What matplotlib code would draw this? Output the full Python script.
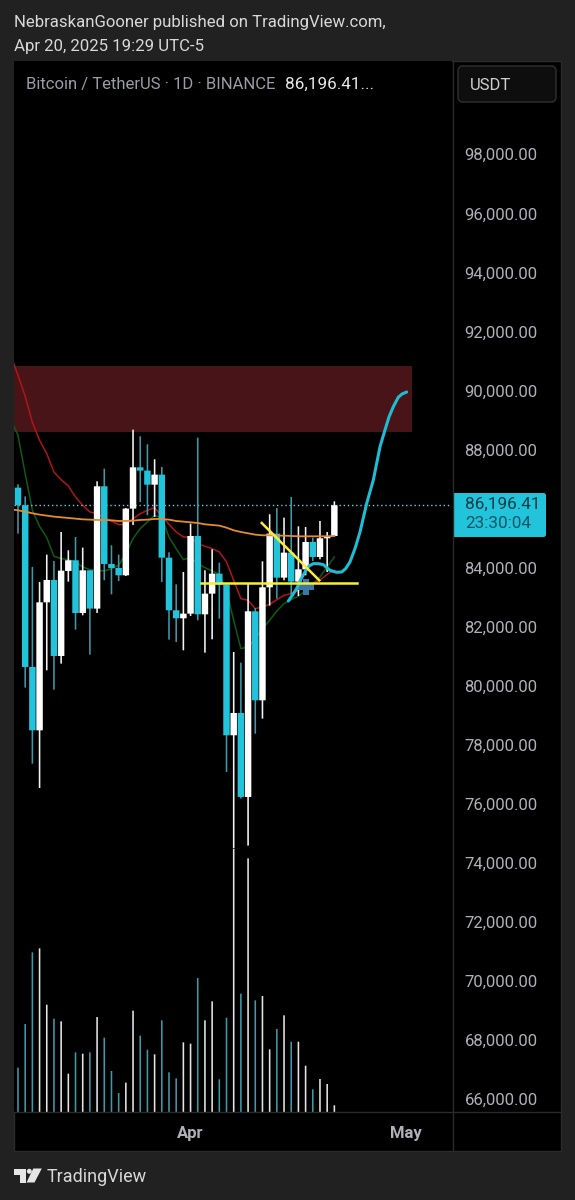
import matplotlib
matplotlib.use("Agg")
import matplotlib.pyplot as plt
from matplotlib.patches import Rectangle, FancyBboxPatch, Polygon
from matplotlib.transforms import IdentityTransform

plt.rcParams['font.family'] = ['Roboto', 'DejaVu Sans']

# ---- data ----
opens  = [86712,86114,80639,78494,82828,83585,81011,83890,84251,82467,83912,82615,86757,84127,83991,83743,86001,87400,87288,86813,87152,84341,82558,82287,82445,85075,82422,83122,83799,83427,78325,79081,76237,82524,79510,83337,85154,83664,84511,83529,83946,84872,84364,84996,85075]
highs  = [86825,86418,84025,83517,84443,84228,85210,84590,85041,84680,83912,86926,87355,84759,84443,86023,88676,88450,88179,87671,87412,84522,83438,83856,85493,88405,83912,84624,84172,83461,81147,80786,83461,82637,84217,85809,86023,85696,86396,85402,85380,85019,85583,85210,86249]
lows   = [85154,79939,77365,76541,80526,79871,80752,83529,81903,82389,81057,82467,83574,83099,83551,83720,85448,86226,85775,85719,83517,81564,81485,81203,82366,82219,81124,81576,82276,77083,74508,76180,74589,78381,78889,82716,82953,83574,83066,83043,83743,84228,84285,83856,85075]
closes = [86114,80639,78494,82828,83585,81011,83901,84251,82467,83912,82615,86757,84127,83991,83743,86001,87400,87288,86813,87152,84341,82558,82287,82445,85075,82422,83122,83799,83427,78325,79081,76237,82524,79510,83337,85154,83664,84511,83529,83946,84872,84364,84996,85075,86114]
volumes = [133,264,479,491,322,280,272,115,179,175,179,285,223,123,57,88,304,229,187,173,275,119,101,209,205,402,275,332,98,283,790,355,761,335,348,188,249,290,211,211,139,68,99,84,20]
# moving averages start one bar before the first candle (clipped by the pane)
orange_ma = [85978,85944,85899,85843,85798,85764,85730,85707,85685,85662,85639,85628,85617,85617,85606,85583,85583,85594,85617,85628,85651,85651,85628,85583,85560,85538,85515,85470,85448,85425,85357,85267,85210,85165,85120,85098,85098,85086,85086,85075,85064,85064,85064,85064,85064,85075]
red_ma = [91193,90516,89805,88924,88315,87863,87242,86983,86768,86396,86114,85888,85831,85685,85583,85459,85470,85662,85831,85944,86035,85752,85470,85210,85041,85041,84815,84725,84646,84533,84195,83574,82953,82897,82614,82670,82761,82919,83066,83122,83235,83348,83461,83574,83777,83912]
green_ma = [89026,88484,87186,85944,85403,85019,84387,84308,84274,84195,84025,83935,83912,83890,83969,84082,84477,84985,85324,85549,85775,85685,85041,84646,84274,84341,84138,84003,83890,83777,83235,82219,81260,81316,81599,81937,82219,82535,82784,82919,83032,83235,83438,83687,84025,84364]
forecast_x = [37.6,38.16,38.76,39.31,39.92,40.47,41.08,41.77,42.46,43.39,44.32,45.02,45.57,46.17,46.87,47.57,48.5,49.42,50.35,51.04,51.6,52.2,52.89,53.41,54.06]
forecast_p = [82874,83066,83292,83596,83856,84059,84138,84138,84104,83912,83845,83856,83969,84195,84646,85210,86182,86970,88098,88664,89104,89453,89771,89883,89950]
price_ticks = [66000,68000,70000,72000,74000,76000,78000,80000,82000,84000,88000,90000,92000,94000,96000,98000]
time_ticks = [24, 54]
time_labels = ['Apr', 'May']
zone_top, zone_bottom, zone_end = 90831, 88596, 54.8
support_x, support_p = [25.4, 47.1], [83483, 83483]
trend_x, trend_p = [33.9, 41.9], [85515, 83574]
cross_x, cross_p = 40.05, 83348
last_label, countdown = '86,196.41', '23:30:04'

# ---- layout ----
W, H = 575, 1200
BG, BLACK, LINE = '#212121', '#000000', '#2b2b2b'
CYAN, WHITE = '#22c4dc', '#ffffff'
L, R, T, B = 14, 452, 61, 1112
fig = plt.figure(figsize=(W/100, H/100), dpi=100, facecolor=BG)
fx = lambda x: x/W
fy = lambda y: 1-y/H

fig.add_artist(Rectangle((fx(14), fy(1151)), (561-14)/W, (1151-61)/H, transform=fig.transFigure,
                         fc=BLACK, ec=LINE, lw=1, zorder=-1))

axv = fig.add_axes([fx(L), fy(B), (R-L)/W, (B-T)/H], facecolor=BLACK)
ax = fig.add_axes([fx(L), fy(B), (R-L)/W, (B-T)/H], facecolor='none')
xs = list(range(len(opens)))
ma_x = list(range(-1, len(opens)))
spacing = 7.19
xlim = ((L-18)/spacing, (R-18)/spacing)
for a in (ax, axv):
    a.set_xlim(*xlim)

# price axis: 33.864 price units per pixel
ax.set_ylim(98000-(B-154.3)*33.864, 98000+(154.3-T)*33.864)
axv.set_ylim(0, (B-T)*3)
axv.set_xticks([]); axv.set_yticks([])
for a in (ax, axv):
    for s in a.spines.values():
        s.set_visible(False)

up = [c >= o for o, c in zip(opens, closes)]
# volume
vl = axv.vlines(xs, [0]*len(xs), volumes, colors=['#e4e4e4' if u else '#3e98a8' for u in up], lw=1.15, zorder=1)
vl.set_snap(False)

# zone
ax.add_patch(Rectangle((xlim[0], zone_bottom), zone_end-xlim[0], zone_top-zone_bottom,
                       fc='#481417', ec='none', zorder=1))
# moving averages under candles
ax.plot(ma_x, green_ma, color='#0f5a14', lw=1.1, zorder=2)
ax.plot(ma_x, red_ma, color='#b01519', lw=1.1, zorder=2)
# candles
wk = ax.vlines(xs, lows, highs, colors=['#f4f4f4' if u else '#3e98a8' for u in up], lw=1.15, zorder=3)
wk.set_snap(False)
bars = ax.bar(xs, [c-o for o, c in zip(opens, closes)], bottom=opens, width=0.9,
              color=[WHITE if u else CYAN for u in up], lw=0, zorder=4)
for b in bars:
    b.set_snap(False)
# last price
ax.plot([xlim[0], xlim[1]], [closes[-1]]*2, color='#6fcfe0', lw=1, ls=(0, (1, 2)), zorder=2.5)
ax.plot(ma_x, orange_ma, color='#e58a2e', lw=1.3, zorder=5)
# drawings
ax.plot(cross_x, cross_p, marker='P', ms=11.5, color='#3a79a6', mew=0, zorder=6)
ax.plot(forecast_x, forecast_p, color='#1fbcd4', lw=2.2, solid_capstyle='round', solid_joinstyle='round', zorder=7)
ax.plot(support_x, support_p, color='#fdeb3a', lw=1.8, zorder=8)
ax.plot(trend_x, trend_p, color='#fdeb3a', lw=1.8, zorder=8)

# axes
ax.yaxis.tick_right()
ax.set_yticks(price_ticks)
ax.set_yticklabels([f'{p:,.2f}' for p in price_ticks])
ax.set_xticks(time_ticks)
ax.set_xticklabels(time_labels, fontweight='bold')
ax.tick_params(axis='y', length=0, pad=9, labelsize=12, labelcolor='#aeb1b7')
ax.tick_params(axis='x', length=0, pad=10, labelsize=12, labelcolor='#aeb1b7')

# separators
fig.add_artist(plt.Line2D([fx(453)]*2, [fy(61), fy(1151)], color=LINE, lw=1, transform=fig.transFigure))
fig.add_artist(plt.Line2D([fx(14), fx(561)], [fy(1112)]*2, color=LINE, lw=1, transform=fig.transFigure))

# texts
fig.text(fx(14), fy(23), 'NebraskanGooner published on TradingView.com,', color='#d8d8d8', fontsize=12.03, va='center')
fig.text(fx(14), fy(46), 'Apr 20, 2025 19:29 UTC-5', color='#d8d8d8', fontsize=12.03, va='center')
fig.text(fx(26), fy(84), 'Bitcoin / TetherUS · 1D · BINANCE', color='#9a9da5', fontsize=12, va='center')
fig.text(fx(285), fy(84), '86,196.41...', color='#e6e6e6', fontsize=12.3, va='center')

# USDT box
fig.add_artist(FancyBboxPatch((458, H-102), 98, 36, boxstyle='round,pad=0,rounding_size=5',
                              transform=IdentityTransform(), fc='#0e0e0e', ec='#2a2a2a', lw=1.2))
fig.text(fx(470), fy(85.5), 'USDT', color='#cfcfcf', fontsize=12, va='center')

# last price label
fig.add_artist(FancyBboxPatch((453, H-537), 93, 44, boxstyle='round,pad=0,rounding_size=2.5',
                              transform=IdentityTransform(), fc=CYAN, ec='none'))
fig.add_artist(Rectangle((fx(453), fy(537)), 6/W, 44/H, transform=fig.transFigure, fc=CYAN, ec='none'))
fig.text(fx(465), fy(504), last_label, color='#0b3b47', fontsize=12.3, va='center')
fig.text(fx(465), fy(524), countdown, color='#0e5566', fontsize=12.3, va='center')

# logo
logo = [
    [(14, 1168.5), (26, 1168.5), (26, 1182.5), (19.5, 1182.5), (19.5, 1175), (14, 1175)],
    [(33.3, 1168.5), (41.8, 1168.5), (34.5, 1182.5), (26.5, 1182.5)],
]
for pts in logo:
    fig.add_artist(Polygon([(fx(x), fy(y)) for x, y in pts], closed=True, transform=fig.transFigure,
                           fc='#e6e6e6', ec='none'))
fig.add_artist(plt.Circle((29.3, H-1171.3), 2.5, transform=IdentityTransform(), fc='#e6e6e6', ec='none'))
fig.text(fx(47), fy(1177), 'TradingView', color='#d8d8d8', fontsize=13, va='center')

fig.savefig('out.png', dpi=100, facecolor=BG)
